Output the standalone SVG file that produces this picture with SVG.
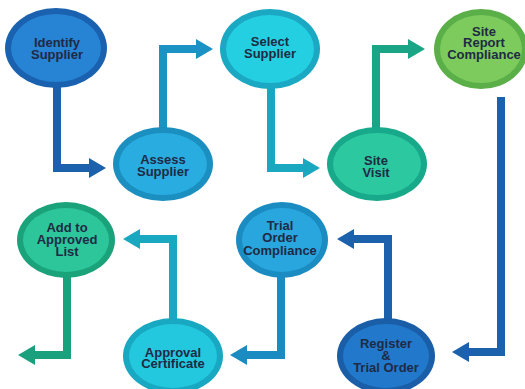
<svg xmlns="http://www.w3.org/2000/svg" width="525" height="389" viewBox="0 0 525 389">
<defs>
<style>
.lbl{font-family:"Liberation Sans",Arial,sans-serif;font-weight:bold;font-size:13px;fill:#1f2a44;text-anchor:middle}
.con{fill:none;stroke-width:8;stroke-linejoin:miter}
</style>
<marker id="mDB" markerUnits="userSpaceOnUse" markerWidth="17" markerHeight="20" refX="1" refY="10" orient="auto"><path d="M0,0 L17,10 L0,20 Z" fill="#1c61ab"/></marker>
<marker id="mB" markerUnits="userSpaceOnUse" markerWidth="17" markerHeight="20" refX="1" refY="10" orient="auto"><path d="M0,0 L17,10 L0,20 Z" fill="#1b92c4"/></marker>
<marker id="mC" markerUnits="userSpaceOnUse" markerWidth="17" markerHeight="20" refX="1" refY="10" orient="auto"><path d="M0,0 L17,10 L0,20 Z" fill="#1aa8c0"/></marker>
<marker id="mG" markerUnits="userSpaceOnUse" markerWidth="17" markerHeight="20" refX="1" refY="10" orient="auto"><path d="M0,0 L17,10 L0,20 Z" fill="#1aa586"/></marker>
<marker id="mG2" markerUnits="userSpaceOnUse" markerWidth="17" markerHeight="20" refX="1" refY="10" orient="auto"><path d="M0,0 L17,10 L0,20 Z" fill="#1aa07c"/></marker>
<marker id="mB2" markerUnits="userSpaceOnUse" markerWidth="17" markerHeight="20" refX="1" refY="10" orient="auto"><path d="M0,0 L17,10 L0,20 Z" fill="#1a8cc2"/></marker>
</defs>
<rect width="525" height="389" fill="#ffffff"/>
<g id="connectors">
<path class="con" stroke="#1c61ab" d="M57,86 V168 H90" marker-end="url(#mDB)"/>
<path class="con" stroke="#1b92c4" d="M163,130 V49 H197" marker-end="url(#mB)"/>
<path class="con" stroke="#1aa8c0" d="M271,86 V168 H304" marker-end="url(#mC)"/>
<path class="con" stroke="#1aa586" d="M376,130 V49 H409" marker-end="url(#mG)"/>
<path class="con" stroke="#1c61ab" d="M501,97 V352 H468" marker-end="url(#mDB)"/>
<path class="con" stroke="#1c61ab" d="M388,320 V239 H353" marker-end="url(#mDB)"/>
<path class="con" stroke="#1a8cc2" d="M281,276 V355 H246" marker-end="url(#mB2)"/>
<path class="con" stroke="#1aa8c0" d="M173,320 V239 H139" marker-end="url(#mC)"/>
<path class="con" stroke="#1aa07c" d="M67,276 V355 H34" marker-end="url(#mG2)"/>
</g>
<g id="identify">
<ellipse cx="56" cy="48" rx="51" ry="40" fill="#1a62b0"/>
<ellipse cx="56" cy="48" rx="45" ry="34" fill="#2783d4"/>
<text class="lbl" x="57" y="47">Identify</text>
<text class="lbl" x="57" y="59">Supplier</text>
</g>
<g id="assess">
<ellipse cx="163" cy="164" rx="50" ry="37" fill="#1a8fc0"/>
<ellipse cx="163" cy="164" rx="44" ry="31" fill="#29ade0"/>
<text class="lbl" x="163" y="164">Assess</text>
<text class="lbl" x="163" y="176">Supplier</text>
</g>
<g id="select">
<ellipse cx="270" cy="49" rx="50" ry="40" fill="#1aa8c2"/>
<ellipse cx="270" cy="49" rx="44" ry="34" fill="#25cfe2"/>
<text class="lbl" x="270" y="46">Select</text>
<text class="lbl" x="270" y="58">Supplier</text>
</g>
<g id="sitevisit">
<ellipse cx="377" cy="164" rx="50" ry="37" fill="#18a98a"/>
<ellipse cx="377" cy="164" rx="44" ry="31" fill="#2cc8a0"/>
<text class="lbl" x="376" y="165">Site</text>
<text class="lbl" x="376" y="177">Visit</text>
</g>
<g id="sitereport">
<ellipse cx="481" cy="49" rx="47" ry="40" fill="#5aaf48"/>
<ellipse cx="481" cy="49" rx="41" ry="34" fill="#7ccb5c"/>
<text class="lbl" x="484" y="35.5">Site</text>
<text class="lbl" x="484" y="47">Report</text>
<text class="lbl" x="484" y="58.5">Compliance</text>
</g>
<g id="register">
<ellipse cx="386" cy="356" rx="49" ry="38" fill="#1a5ea8"/>
<ellipse cx="386" cy="356" rx="43" ry="32" fill="#2279cb"/>
<text class="lbl" x="386" y="347.5">Register</text>
<text class="lbl" x="386" y="359.5">&amp;</text>
<text class="lbl" x="386" y="371.5">Trial Order</text>
</g>
<g id="trialorder">
<ellipse cx="282" cy="240" rx="46" ry="38" fill="#1a8cc2"/>
<ellipse cx="282" cy="240" rx="40" ry="32" fill="#29a6de"/>
<text class="lbl" x="280" y="229.5">Trial</text>
<text class="lbl" x="280" y="242">Order</text>
<text class="lbl" x="280" y="254.5">Compliance</text>
</g>
<g id="approval">
<ellipse cx="173" cy="356" rx="50" ry="38" fill="#18a8c2"/>
<ellipse cx="173" cy="356" rx="44" ry="32" fill="#24c8de"/>
<text class="lbl" x="173" y="356.5">Approval</text>
<text class="lbl" x="173" y="368">Certificate</text>
</g>
<g id="addlist">
<ellipse cx="66" cy="240" rx="49" ry="38" fill="#1aa27a"/>
<ellipse cx="66" cy="240" rx="43" ry="32" fill="#2cc69a"/>
<text class="lbl" x="67" y="231.5">Add to</text>
<text class="lbl" x="67" y="243.5">Approved</text>
<text class="lbl" x="67" y="255.5">List</text>
</g>
</svg>
